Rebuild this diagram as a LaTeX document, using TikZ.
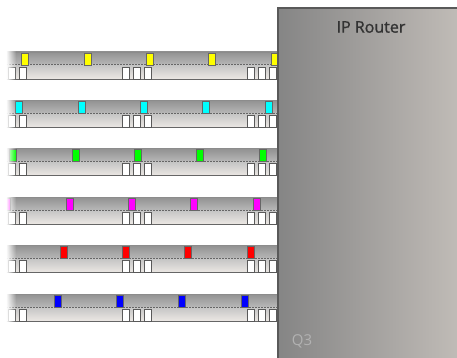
\documentclass[tikz,border=0pt]{standalone}
\usepackage{fontspec}
\setmainfont{Open Sans}
\newfontfamily\routerfont[FakeBold=1.2]{Open Sans}
\usetikzlibrary{fadings}
\tikzfading[name=fade band, left color=transparent!0, right color=transparent!100]
\definecolor{routerleft}{HTML}{858585}
\definecolor{routerright}{HTML}{C4BFBA}
\definecolor{bandtop}{HTML}{929292}
\definecolor{bandmid}{HTML}{B8B8B8}
\definecolor{bandlow}{HTML}{C4C4C4}
\definecolor{bandfoot}{HTML}{ECE8E4}
\definecolor{markyellow}{HTML}{FFFF00}
\definecolor{markcyan}{HTML}{00FFFF}
\definecolor{markgreen}{HTML}{00FF00}
\definecolor{markmagenta}{HTML}{FF00FF}
\definecolor{markred}{HTML}{FF0000}
\definecolor{markblue}{HTML}{0000FF}
\begin{document}
\begin{tikzpicture}[x=1pt, y=-1pt]
            \tikzstyle{slot}=[draw=black!65, line width=0.8pt, fill=white]
            \tikzstyle{cell}=[draw=black!60, line width=0.8pt]
            \useasboundingbox (0,0) rectangle (457,358);
            \clip (0,0) rectangle (457,358);
            
            % 六条链路
            \foreach \col [count=\i from 0] in {markyellow,markcyan,markgreen,markmagenta,markred,markblue} {
                \pgfmathsetmacro{\ytop}{52+48.4*\i}
                \pgfmathsetmacro{\xoff}{25-6*\i}
                \begin{scope}[shift={(0,\ytop)}]
                    \shade[top color=bandtop, bottom color=bandmid] (0,0) rectangle (300,13);
                    \shade[top color=bandlow, bottom color=bandfoot] (0,13) rectangle (300,27);
                    \draw[black!45, line width=0.8pt] (0,0) -- (300,0);
                    \draw[black!60, line width=0.8pt] (0,27) -- (300,27);
                    \draw[black!60, line width=1pt, dash pattern=on 1.5pt off 1.5pt] (0,13) -- (300,13);
                    \foreach \g in {0,1,2}
                        \foreach \s in {0,11,22}
                            \draw[slot] ({-3+125*\g+\s},15) rectangle +(7,12);
                    \foreach \k in {0,...,4}
                        \draw[cell, fill=\col] ({\xoff+62.4*\k-3.5},1) rectangle +(7,12);
                    \fill[white] (-1,-1) rectangle (6,28);
                    \fill[white, path fading=fade band] (6,-1) rectangle (16,28);
                \end{scope}
            }
            
            % 路由器
            \shade[left color=routerleft, right color=routerright] (278,8) rectangle (470,370);
            \draw[black!65, line width=1.5pt] (278,370) -- (278,8) -- (470,8);
            \node[text=black!80, font=\routerfont\fontsize{16}{18}\selectfont] (router) at (371,27) {IP Router};
            \node[text=black!30, font=\fontsize{15}{17}\selectfont] (q3) at (302,341) {Q3};
        \end{tikzpicture}
\end{document}
